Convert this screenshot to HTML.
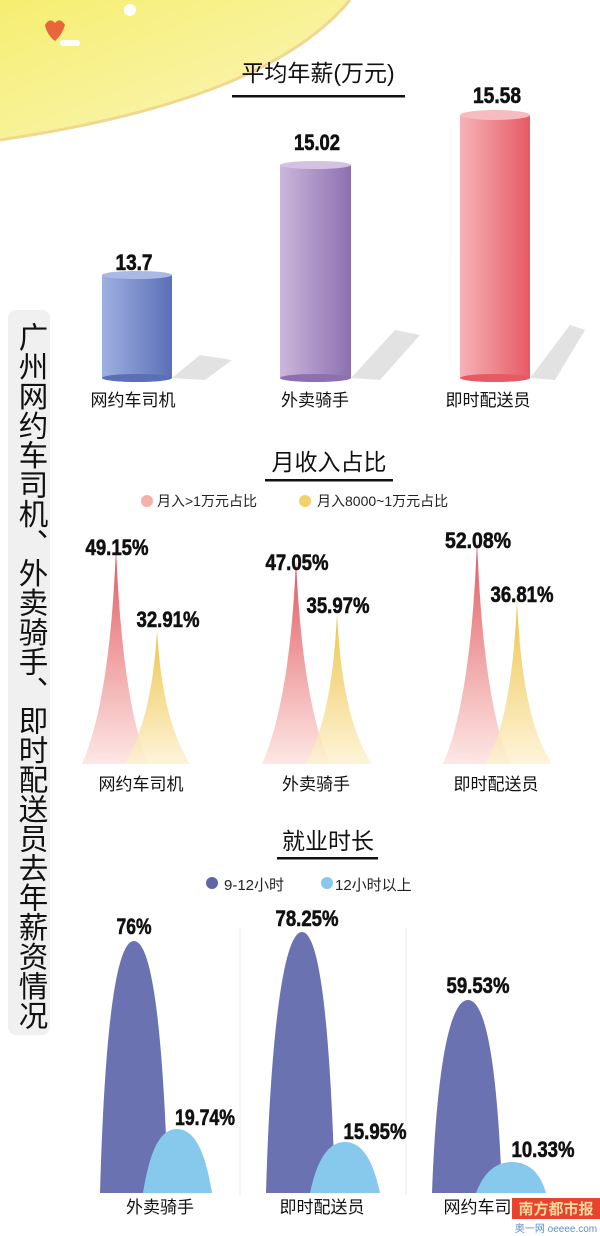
<!DOCTYPE html>
<html><head><meta charset="utf-8"><style>
html,body{margin:0;padding:0;background:#fff;}
svg{display:block;}
text{font-family:"Liberation Sans","Noto Sans CJK SC",sans-serif;}
.n{font-weight:bold;font-size:22px;fill:#111;stroke:#111;stroke-width:0.6;text-anchor:middle;}
.c{font-size:17px;fill:#111;text-anchor:middle;}
.t{font-size:23px;fill:#111;text-anchor:middle;}
.l{font-size:14px;fill:#222;}
</style></head><body>
<svg width="600" height="1236" viewBox="0 0 600 1236" xmlns="http://www.w3.org/2000/svg">
<defs>
<linearGradient id="b1" x1="0" x2="1"><stop offset="0" stop-color="#9fb0e0"/><stop offset="1" stop-color="#5a6fb8"/></linearGradient>
<linearGradient id="b2" x1="0" x2="1"><stop offset="0" stop-color="#cbb6dc"/><stop offset="1" stop-color="#8d70b0"/></linearGradient>
<linearGradient id="b3" x1="0" x2="1"><stop offset="0" stop-color="#f6b3b8"/><stop offset="1" stop-color="#e65a64"/></linearGradient>
<linearGradient id="rp" x1="0" y1="0" x2="0" y2="1"><stop offset="0" stop-color="#dd4a55"/><stop offset="0.4" stop-color="#ec8a8c"/><stop offset="1" stop-color="#fde6e4"/></linearGradient>
<linearGradient id="yp" x1="0" y1="0" x2="0" y2="1"><stop offset="0" stop-color="#e8b31a"/><stop offset="0.4" stop-color="#f1cd63"/><stop offset="1" stop-color="#fdf1cf"/></linearGradient>
<linearGradient id="yb" x1="0" y1="0" x2="1" y2="1"><stop offset="0" stop-color="#f6ee70"/><stop offset="1" stop-color="#fbf6c0"/></linearGradient>
</defs>
<path d="M0,0 L350,0 C300,60 200,110 0,140 Z" fill="url(#yb)"/>
<path d="M0,140 C200,110 300,60 350,0" fill="none" stroke="#f0d890" stroke-width="3"/>
<path d="M45,25 q5,-8 10,-2 q5,-6 10,2 q-3,10 -10,16 q-8,-6 -10,-16z" fill="#e8663a"/>
<rect x="60" y="40" width="20" height="6" rx="3" fill="#fff"/>
<circle cx="130" cy="10" r="6" fill="#fff"/>
<rect x="8" y="310" width="42" height="725" rx="8" fill="#f0f0f0"/>
<text x="31" y="322" style="writing-mode:tb;font-size:29.5px;" fill="#111" text-anchor="start">广州网约车司机、外卖骑手、即时配送员去年薪资情况</text>
<text class="t" x="318" y="81">平均年薪(万元)</text>
<rect x="232" y="95" width="173" height="2.5" fill="#111"/>
<polygon points="172,378 200,355 232,360 205,380" fill="#e2e2e2"/>
<polygon points="351,378 395,330 420,335 380,380" fill="#e2e2e2"/>
<polygon points="530,378 570,325 585,330 555,380" fill="#e2e2e2"/>
<rect x="102" y="275" width="70" height="103" fill="url(#b1)"/>
<ellipse cx="137" cy="378" rx="35" ry="4" fill="#5a6fb8"/>
<ellipse cx="137" cy="275" rx="35" ry="4" fill="#aab8e4"/>
<rect x="280" y="165" width="71" height="213" fill="url(#b2)"/>
<ellipse cx="315.5" cy="378" rx="35.5" ry="4" fill="#8d70b0"/>
<ellipse cx="315.5" cy="165" rx="35.5" ry="4" fill="#d4c2e2"/>
<rect x="460" y="115" width="70" height="263" fill="url(#b3)"/>
<ellipse cx="495" cy="378" rx="35" ry="4" fill="#e65a64"/>
<ellipse cx="495" cy="115" rx="35" ry="5" fill="#f7bcc0"/>
<text class="n" x="134" y="270" textLength="37" lengthAdjust="spacingAndGlyphs">13.7</text>
<text class="n" x="317" y="150" textLength="46" lengthAdjust="spacingAndGlyphs">15.02</text>
<text class="n" x="497" y="103" textLength="48" lengthAdjust="spacingAndGlyphs">15.58</text>
<text class="c" x="133" y="406">网约车司机</text>
<text class="c" x="315" y="406">外卖骑手</text>
<text class="c" x="488" y="406">即时配送员</text>
<text class="t" x="329" y="470">月收入占比</text>
<rect x="265" y="479" width="128" height="2.5" fill="#111"/>
<circle cx="147" cy="501" r="6" fill="#f5b0aa"/>
<text class="l" x="157" y="506">月入&gt;1万元占比</text>
<circle cx="305" cy="501" r="6" fill="#f4d06a"/>
<text class="l" x="317" y="506">月入8000~1万元占比</text>
<g opacity="0.92">
<path d="M82,764 Q110,700 116,547 Q122,700 148,764 Z" fill="url(#rp)"/>
<path d="M124,764 Q152,720 157,630 Q162,720 190,764 Z" fill="url(#yp)" opacity="0.85"/>
<path d="M262,764 Q290,700 296,560 Q302,700 330,764 Z" fill="url(#rp)"/>
<path d="M305,764 Q332,720 337,613 Q342,720 372,764 Z" fill="url(#yp)" opacity="0.85"/>
<path d="M443,764 Q471,700 477,540 Q483,700 510,764 Z" fill="url(#rp)"/>
<path d="M485,764 Q512,720 517,600 Q522,720 552,764 Z" fill="url(#yp)" opacity="0.85"/>
</g>
<text class="n" x="117" y="555" textLength="63" lengthAdjust="spacingAndGlyphs">49.15%</text>
<text class="n" x="168" y="627" textLength="63" lengthAdjust="spacingAndGlyphs">32.91%</text>
<text class="n" x="297" y="570" textLength="63" lengthAdjust="spacingAndGlyphs">47.05%</text>
<text class="n" x="338" y="613" textLength="63" lengthAdjust="spacingAndGlyphs">35.97%</text>
<text class="n" x="478" y="548" textLength="66" lengthAdjust="spacingAndGlyphs">52.08%</text>
<text class="n" x="522" y="602" textLength="63" lengthAdjust="spacingAndGlyphs">36.81%</text>
<text class="c" x="141" y="790">网约车司机</text>
<text class="c" x="316" y="790">外卖骑手</text>
<text class="c" x="496" y="790">即时配送员</text>
<text class="t" x="328" y="849">就业时长</text>
<rect x="277" y="857" width="101" height="2.5" fill="#111"/>
<circle cx="212" cy="883" r="6" fill="#5f66a8"/>
<text class="l" x="224" y="890" style="font-size:15px">9-12小时</text>
<circle cx="327" cy="883" r="6" fill="#87c9ec"/>
<text class="l" x="335" y="890" style="font-size:15px">12小时以上</text>
<line x1="240" y1="928" x2="240" y2="1195" stroke="#eee"/>
<line x1="406" y1="928" x2="406" y2="1195" stroke="#eee"/>
<path d="M100,1193 C104,1050 114,941 134,941 C154,941 164,1050 168,1193 Z" fill="#6a72b2"/>
<path d="M143,1193 C150,1150 160,1129 177,1129 C194,1129 205,1150 212,1193 Z" fill="#87c9ec"/>
<path d="M266,1193 C270,1050 282,932 302,932 C322,932 331,1050 335,1193 Z" fill="#6a72b2"/>
<path d="M310,1193 C317,1160 328,1142 345,1142 C362,1142 373,1160 380,1193 Z" fill="#87c9ec"/>
<path d="M432,1193 C436,1080 448,1000 468,1000 C488,1000 498,1080 502,1193 Z" fill="#6a72b2"/>
<path d="M476,1193 C484,1172 496,1162 512,1162 C528,1162 540,1172 546,1193 Z" fill="#87c9ec"/>
<text class="n" x="134" y="934" textLength="35" lengthAdjust="spacingAndGlyphs">76%</text>
<text class="n" x="205" y="1125" textLength="60" lengthAdjust="spacingAndGlyphs">19.74%</text>
<text class="n" x="307" y="926" textLength="63" lengthAdjust="spacingAndGlyphs">78.25%</text>
<text class="n" x="375" y="1139" textLength="63" lengthAdjust="spacingAndGlyphs">15.95%</text>
<text class="n" x="478" y="993" textLength="63" lengthAdjust="spacingAndGlyphs">59.53%</text>
<text class="n" x="543" y="1157" textLength="63" lengthAdjust="spacingAndGlyphs">10.33%</text>
<text class="c" x="160" y="1213">外卖骑手</text>
<text class="c" x="322" y="1213">即时配送员</text>
<text class="c" x="486" y="1213">网约车司机</text>
<rect x="512" y="1198" width="88" height="21" fill="#e8432e"/>
<text x="556" y="1214" style="font-size:15px;font-weight:bold" fill="#ffd9a0" text-anchor="middle">南方都市报</text>
<text x="556" y="1232" style="font-size:10px" fill="#5a8fc8" text-anchor="middle">奥一网 oeeee.com</text>
</svg>
</body></html>
